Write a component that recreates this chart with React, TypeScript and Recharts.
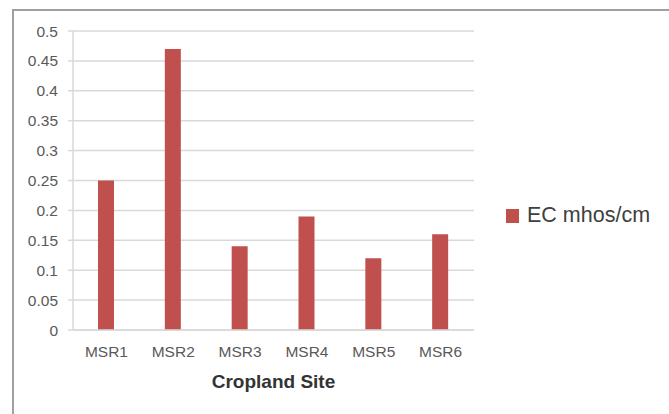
import { BarChart, Bar, XAxis, YAxis, CartesianGrid } from "recharts";

const SITES = ["MSR1", "MSR2", "MSR3", "MSR4", "MSR5", "MSR6"];
const EC_VALUES = [0.25, 0.47, 0.14, 0.19, 0.12, 0.16];
const Y_TICKS = [0, 0.05, 0.1, 0.15, 0.2, 0.25, 0.3, 0.35, 0.4, 0.45, 0.5];
const SERIES_NAME = "EC mhos/cm";

const BAR = "#C0504D";
const GRID = "#D9D9D9";
const TICK = "#595959";
const FONT = "'Liberation Sans', Arial, sans-serif";

const data = SITES.map((site, i) => ({ site, ec: EC_VALUES[i] }));

export default function App() {
  return (
    <div style={{ position: "fixed", inset: 0, background: "#fff", overflow: "hidden" }}>
      <div
        style={{
          position: "absolute",
          left: 12,
          top: 9,
          width: 800,
          height: 600,
          border: "2px solid #A0A0A0",
        }}
      />
      <div style={{ position: "absolute", left: 0, top: 0 }}>
        <BarChart
          width={669}
          height={414}
          data={data}
          margin={{ top: 31, right: 195, left: 13, bottom: 44 }}
        >
          <CartesianGrid vertical={false} stroke={GRID} strokeWidth={1.5} />
          <XAxis
            dataKey="site"
            height={40}
            axisLine={{ stroke: GRID, strokeWidth: 1.5 }}
            tickLine={false}
            tickSize={6}
            tickMargin={10}
            tick={{ fontSize: 15.5, fill: TICK, fontFamily: FONT }}
            label={{
              value: "Cropland Site",
              position: "bottom",
              offset: 5,
              style: { fontSize: 19, fontWeight: "bold", fill: "#333", fontFamily: FONT },
            }}
          />
          <YAxis
            width={60}
            domain={[0, 0.5]}
            ticks={Y_TICKS}
            interval={0}
            axisLine={{ stroke: GRID, strokeWidth: 1.5 }}
            tickLine={{ stroke: GRID, strokeWidth: 1.5 }}
            tickSize={5}
            tickMargin={10}
            tick={{ fontSize: 15.5, fill: TICK, fontFamily: FONT }}
          />
          <Bar dataKey="ec" name={SERIES_NAME} fill={BAR} barSize={16} isAnimationActive={false} />
        </BarChart>
      </div>
      <div
        style={{
          position: "absolute",
          left: 506,
          top: 203,
          display: "flex",
          alignItems: "center",
          fontFamily: FONT,
        }}
      >
        <span style={{ width: 13, height: 14, background: BAR, display: "inline-block", marginRight: 8 }} />
        <span style={{ fontSize: 21.5, color: "#404040" }}>{SERIES_NAME}</span>
      </div>
    </div>
  );
}
